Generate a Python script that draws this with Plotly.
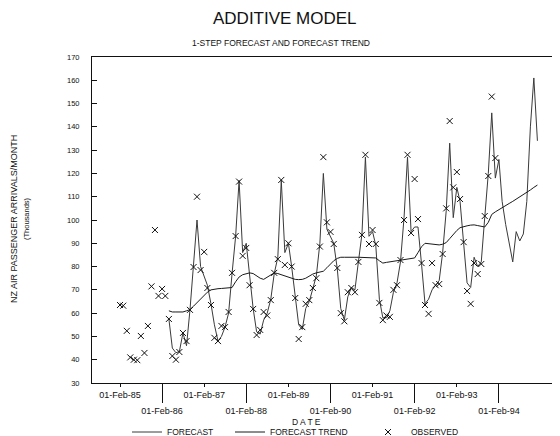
import pandas as pd
import plotly.graph_objects as go

# ---------------- data (thousands of passengers per month) ----------------
obs_start = "1985-02-01"
observed = [
    63.5, 63.2, 52.4, 41.0, 40.0, 39.8, 50.2, 42.9, 54.5, 71.5, 95.7, 67.4,
    70.4, 67.4, 57.5, 41.6, 40.0, 43.3, 51.5, 48.0, 61.4, 79.8, 110.0, 78.5,
    86.3, 70.8, 63.5, 49.4, 48.0, 54.5, 54.0, 60.5, 77.3, 93.1, 116.5, 84.6,
    88.0, 72.0, 61.8, 50.6, 52.8, 60.5, 59.0, 65.6, 77.3, 83.2, 117.2, 80.7,
    90.0, 80.0, 66.5, 48.9, 54.0, 64.0, 65.6, 70.8, 75.0, 88.6, 127.0, 99.0,
    94.9, 89.7, 79.4, 60.0, 56.5, 69.0, 70.8, 69.0, 82.0, 93.6, 128.0, 89.7,
    95.7, 89.7, 64.4, 57.0, 59.0, 58.4, 70.0, 72.0, 82.8, 100.0, 128.0, 94.4,
    117.6, 100.4, 81.5, 63.5, 59.7, 81.5, 72.0, 72.5, 85.4, 105.0, 142.5, 114.0,
    120.6, 109.0, 90.5, 69.5, 64.0, 81.5, 76.8, 81.1, 101.7, 118.9, 153.0, 126.6,
]

fc_start = "1986-04-01"
forecast = [
    57.5, 45.0, 43.0, 43.5, 51.5, 46.0, 61.4, 80.0, 100.0, 80.0,
    76.0, 72.0, 64.0, 55.0, 48.0, 50.0, 54.0, 60.0, 77.0, 93.0, 117.0, 86.0,
    90.0, 75.0, 62.0, 52.0, 51.0, 57.0, 60.0, 66.0, 77.0, 84.0, 117.0, 86.0,
    90.0, 80.0, 66.0, 55.0, 53.0, 62.0, 65.0, 71.0, 76.0, 90.0, 120.0, 96.0,
    93.0, 90.0, 79.0, 62.0, 57.0, 67.0, 71.0, 70.0, 82.0, 94.0, 127.0, 93.0,
    95.0, 89.0, 66.0, 58.0, 58.0, 61.0, 69.0, 73.0, 82.0, 101.0, 127.0, 95.0,
    97.0, 97.0, 81.0, 64.0, 66.0, 70.0, 72.0, 74.0, 86.0, 104.0, 133.0, 101.0,
    114.0, 108.0, 90.0, 73.0, 71.0, 84.0, 80.0, 82.0, 101.0, 120.0, 146.0, 118.0,
    126.0, 108.0, 98.0, 90.0, 82.0, 95.0, 91.0, 94.0, 108.0, 140.0, 161.0, 134.0,
]

trend = [
    61.0, 60.5, 60.5, 60.5, 60.5, 61.0, 61.5, 63.0, 64.5, 66.0,
    67.5, 69.0, 70.0, 70.4, 70.5, 70.6, 70.7, 70.8, 71.0, 73.5, 75.5, 76.5,
    77.0, 77.3, 77.0, 76.0, 75.0, 74.5, 75.5, 76.5, 77.3, 77.0, 76.5, 75.8,
    75.5, 75.0, 74.5, 74.4, 74.5, 75.0, 76.0, 76.8, 77.3, 77.5, 78.0, 79.5,
    81.0, 82.5, 83.5, 84.0, 84.0, 84.1, 84.1, 84.0, 84.0, 84.0, 84.0, 84.0,
    83.8, 83.7, 82.5, 81.5, 81.8, 82.0, 82.3, 82.5, 82.8, 83.0, 83.3, 83.5,
    83.7, 86.0, 88.5, 90.0, 89.8, 89.5, 89.3, 89.3, 89.6, 90.3, 92.0, 93.8,
    95.5, 96.7, 97.2, 97.5, 97.8, 97.9, 97.6, 97.3, 97.0, 99.0, 102.4, 103.5,
    104.5, 105.5, 106.3, 107.1, 108.0, 108.9, 109.8, 110.8, 111.8, 112.9, 114.0, 115.0,
]

odd_ticks = ["1985-02-01", "1987-02-01", "1989-02-01", "1991-02-01", "1993-02-01"]
odd_labels = ["01-Feb-85", "01-Feb-87", "01-Feb-89", "01-Feb-91", "01-Feb-93"]
even_ticks = ["1986-02-01", "1988-02-01", "1990-02-01", "1992-02-01", "1994-02-01"]
even_labels = ["01-Feb-86", "01-Feb-88", "01-Feb-90", "01-Feb-92", "01-Feb-94"]

x_range = ["1984-06-03", "1995-07-16"]
y_ticks = list(range(30, 171, 10))

obs_dates = pd.date_range(obs_start, periods=len(observed), freq="MS")
fc_dates = pd.date_range(fc_start, periods=len(forecast), freq="MS")
tr_dates = pd.date_range(fc_start, periods=len(trend), freq="MS")

FONT = "Liberation Sans, Arial, sans-serif"
INK = "#111111"

# the page body adds an 8 px offset; the figure is sized so it ends at the window edge
PX = 8


def px_x(X):
    return (X - PX - 84) / 468


def px_y(Y):
    return (375 - (Y - PX)) / 326


def legend_box(X, itemwidth=30):
    return dict(orientation="h", x=px_x(X), xanchor="left",
                y=px_y(432), yanchor="middle",
                font=dict(size=8.5, family=FONT, color=INK),
                bgcolor="rgba(0,0,0,0)", itemwidth=itemwidth)


fig = go.Figure()
fig.add_trace(go.Scatter(x=fc_dates, y=forecast, mode="lines", name="FORECAST",
                         legend="legend",
                         line=dict(color="#3a3a3a", width=1)))
fig.add_trace(go.Scatter(x=tr_dates, y=trend, mode="lines", name="FORECAST TREND",
                         legend="legend2",
                         line=dict(color="#1a1a1a", width=1)))
fig.add_trace(go.Scatter(x=obs_dates, y=observed, mode="markers", name="OBSERVED",
                         legend="legend3",
                         marker=dict(symbol="x-thin", size=6,
                                     line=dict(color=INK, width=1), color=INK)))
# invisible helper trace so that the second (even-year) tick axis is drawn
fig.add_trace(go.Scatter(x=[obs_dates[0]], y=[None], xaxis="x2", mode="lines",
                         showlegend=False, hoverinfo="skip"))

fig.update_layout(
    width=552, height=428,
    margin=dict(l=84, r=0, t=49, b=53, autoexpand=False),
    paper_bgcolor="white", plot_bgcolor="white",
    font=dict(family=FONT, color=INK),
    showlegend=True,
    legend=legend_box(127),
    legend2=legend_box(230),
    legend3=legend_box(365, itemwidth=36),
    xaxis=dict(type="date", range=x_range, showgrid=False, zeroline=False,
               automargin=False,
               showline=True, linecolor=INK, linewidth=1, mirror=True,
               ticks="outside", ticklen=3, tickcolor=INK,
               tickvals=odd_ticks, ticktext=odd_labels,
               tickfont=dict(size=9, family=FONT, color=INK)),
    xaxis2=dict(type="date", range=x_range, overlaying="x", side="bottom", anchor="y",
                showgrid=False, zeroline=False, showline=False, automargin=False,
                ticks="outside", ticklen=19, tickcolor=INK,
                tickvals=even_ticks, ticktext=even_labels,
                tickfont=dict(size=9, family=FONT, color=INK)),
    yaxis=dict(range=[30, 170], tickvals=y_ticks, showgrid=False, zeroline=False,
               automargin=False,
               showline=True, linecolor=INK, linewidth=1, mirror=False,
               ticks="inside", ticklen=5, tickcolor=INK, ticklabelstandoff=10,
               tickfont=dict(size=7.5, family=FONT, color=INK)),
    annotations=[
        dict(text="ADDITIVE MODEL", xref="paper", yref="paper",
             x=px_x(285), y=px_y(18), xanchor="center", yanchor="middle",
             showarrow=False, font=dict(size=17, family=FONT, color=INK)),
        dict(text="1-STEP FORECAST AND FORECAST TREND", xref="paper", yref="paper",
             x=px_x(281), y=px_y(43), xanchor="center", yanchor="middle",
             showarrow=False, font=dict(size=8.5, family=FONT, color=INK)),
        dict(text="D A T E", xref="paper", yref="paper",
             x=px_x(306), y=px_y(422), xanchor="center", yanchor="middle",
             showarrow=False, font=dict(size=8.5, family=FONT, color=INK)),
        dict(text="NZ AIR PASSENGER ARRIVALS/MONTH", xref="paper", yref="paper",
             x=px_x(14), y=px_y(219), xanchor="center", yanchor="middle",
             textangle=-90, showarrow=False, font=dict(size=9, family=FONT, color=INK)),
        dict(text="(Thousands)", xref="paper", yref="paper",
             x=px_x(26), y=px_y(219), xanchor="center", yanchor="middle",
             textangle=-90, showarrow=False, font=dict(size=7.5, family=FONT, color=INK)),
    ],
)

fig.write_html("out.html")
